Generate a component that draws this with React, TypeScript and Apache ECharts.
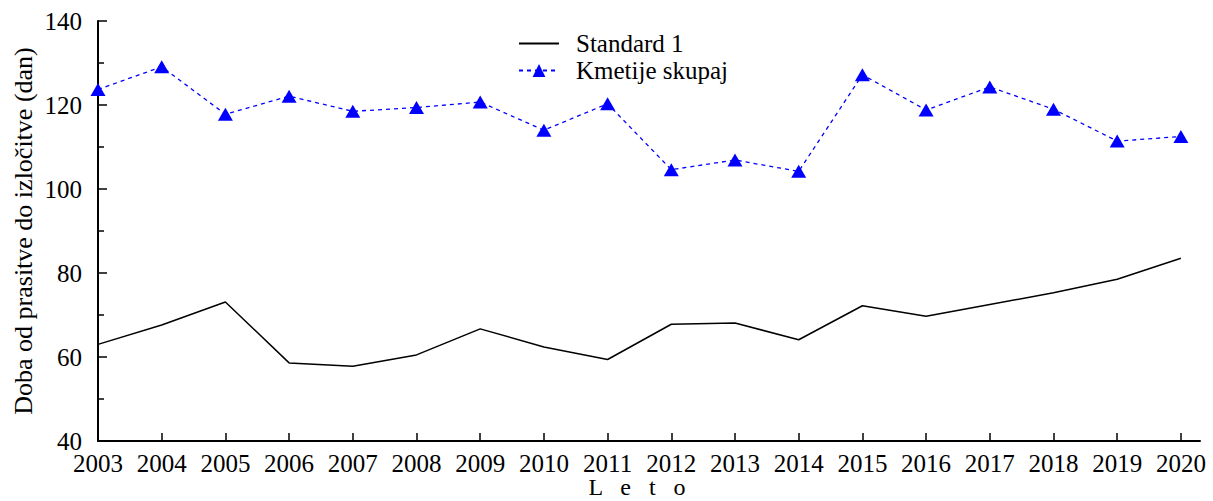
import React, { useEffect, useRef } from "react";
import * as echarts from "echarts";

const years = [2003, 2004, 2005, 2006, 2007, 2008, 2009, 2010, 2011, 2012, 2013, 2014, 2015, 2016, 2017, 2018, 2019, 2020];
const standard1 = [63.0, 67.6, 73.1, 58.6, 57.8, 60.5, 66.7, 62.4, 59.4, 67.8, 68.1, 64.1, 72.2, 69.7, 72.5, 75.3, 78.5, 83.5];
const kmetijeSkupaj = [123.7, 129.1, 117.8, 122.1, 118.5, 119.4, 120.7, 114.0, 120.3, 104.6, 106.9, 104.2, 127.2, 118.8, 124.3, 119.0, 111.4, 112.5];
const seriesNames = ["Standard 1", "Kmetije skupaj"];
const yTitle = "Doba od prasitve do izločitve (dan)";
const xTitle = "L   e   t   o";

const FONT = "'Liberation Serif', 'Times New Roman', serif";

export default function App() {
  const ref = useRef<HTMLDivElement>(null);
  useEffect(() => {
    if (!ref.current) return;
    const chart = echarts.init(ref.current, null, { renderer: "svg" });
    chart.setOption({
      animation: false,
      backgroundColor: "#ffffff",
      textStyle: { fontFamily: FONT, color: "#000" },
      grid: { left: 98, right: 13, top: 21, bottom: 60, containLabel: false, outerBoundsMode: "none" },
      legend: {
        orient: "vertical",
        left: 518,
        top: 31,
        padding: 0,
        itemGap: 2,
        itemWidth: 40,
        itemHeight: 16,
        textStyle: { fontFamily: FONT, fontSize: 25, color: "#000", padding: [0, 0, 0, 12] },
        data: [
          { name: seriesNames[0], itemStyle: { opacity: 0 } },
          { name: seriesNames[1] },
        ],
      },
      xAxis: {
        type: "value",
        min: years[0],
        max: years[years.length - 1] + 0.3,
        name: xTitle,
        nameLocation: "middle",
        nameGap: 34,
        nameMoveOverlap: false,
        nameTextStyle: { fontFamily: FONT, fontSize: 24, lineHeight: 24, color: "#000", padding: [0, 24, 0, 0] },
        splitLine: { show: false },
        axisLine: { show: true, lineStyle: { color: "#000", width: 2 } },
        axisTick: {
          show: true,
          inside: true,
          length: 8,
          customValues: years,
          lineStyle: { color: "#000", width: 1.5 },
        },
        axisLabel: {
          show: true,
          customValues: years,
          margin: 10,
          fontFamily: FONT,
          fontSize: 25,
          color: "#000",
          formatter: (v: number) => String(v),
        },
      },
      yAxis: {
        type: "value",
        min: 40,
        max: 140,
        interval: 20,
        name: yTitle,
        nameLocation: "middle",
        nameGap: 62,
        nameRotate: 90,
        nameMoveOverlap: false,
        nameTextStyle: { fontFamily: FONT, fontSize: 26, color: "#000" },
        splitLine: { show: false },
        axisLine: { show: true, lineStyle: { color: "#000", width: 2 } },
        axisTick: { show: true, inside: true, length: 9, lineStyle: { color: "#000", width: 1.5 } },
        minorTick: { show: true, splitNumber: 2, length: 6, lineStyle: { color: "#000", width: 1.5 } },
        axisLabel: { margin: 16, fontFamily: FONT, fontSize: 25, color: "#000" },
      },
      series: [
        {
          name: seriesNames[0],
          type: "line",
          data: years.map((y, i) => [y, standard1[i]]),
          symbol: "none",
          lineStyle: { color: "#000", width: 1.5, type: "solid" },
          itemStyle: { color: "#000" },
        },
        {
          name: seriesNames[1],
          type: "line",
          data: years.map((y, i) => [y, kmetijeSkupaj[i]]),
          symbol: "triangle",
          symbolSize: [15, 13],
          lineStyle: { color: "#0000ff", width: 1.3, type: [4, 4] },
          itemStyle: { color: "#0000ff" },
        },
      ],
    });
    return () => chart.dispose();
  }, []);
  return <div ref={ref} style={{ width: 1213, height: 501, position: "absolute", left: 0, top: 0 }} />;
}
